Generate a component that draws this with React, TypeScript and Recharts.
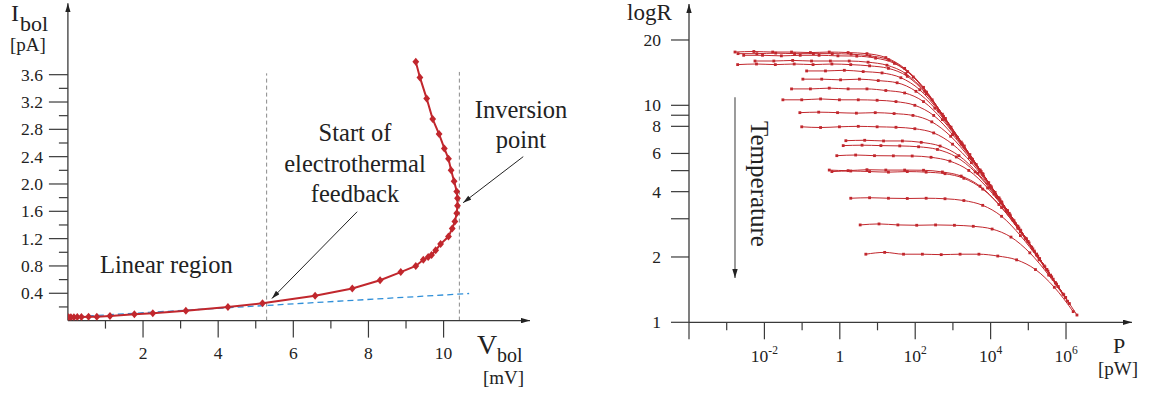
import React from 'react';
import { LineChart, Line, XAxis, YAxis, ReferenceLine } from 'recharts';

// ---------- left panel: I-V curve ----------
const ivVolts = [0.02, 0.08, 0.16, 0.25, 0.36, 0.55, 0.77, 1.12, 1.77, 2.26, 3.14, 4.26, 5.18, 6.58, 7.57, 8.31, 8.86, 9.26, 9.46, 9.59, 9.68, 9.79, 9.92, 10.13, 10.23, 10.3, 10.35, 10.37, 10.37, 10.35, 10.28, 10.2, 10.13, 10.02, 9.88, 9.71, 9.55, 9.37, 9.26];
const ivCurrents = [0.05, 0.05, 0.05, 0.053, 0.053, 0.057, 0.057, 0.067, 0.092, 0.107, 0.145, 0.2, 0.253, 0.365, 0.47, 0.59, 0.71, 0.8, 0.89, 0.93, 0.96, 1.03, 1.12, 1.23, 1.35, 1.45, 1.57, 1.68, 1.79, 1.89, 2.04, 2.2, 2.37, 2.52, 2.73, 2.95, 3.25, 3.56, 3.79];
const linearFitVolts = [0, 10.68];
const linearFitCurrents = [0.05, 0.397];
const guideVolts = [5.29, 10.42];
const guideTops = [3.62, 3.64];
const leftXTicks = [1, 2, 3, 4, 5, 6, 7, 8, 9, 10];
const leftYTicks = [0.2, 0.4, 0.6, 0.8, 1.0, 1.2, 1.4, 1.6, 1.8, 2.0, 2.2, 2.4, 2.6, 2.8, 3.0, 3.2, 3.4, 3.6];
// annotation arrows: [fromV, fromI, toV, toI]
const feedbackArrow = [7.7, 1.594, 5.43, 0.323];
const inversionArrow = [12.12, 2.4, 10.52, 1.726];

// ---------- right panel: logR vs P, one curve per temperature ----------
// [log10(P/pW), R]
const curve01 = [[-2.78, 17.6], [-2.28, 17.7], [-1.78, 17.6], [-1.28, 17.6], [-0.78, 17.5], [-0.28, 17.6], [0.22, 17.5], [0.72, 17.3], [1.22, 16.6], [1.72, 14.8], [2.22, 12.1], [2.72, 9.1], [3.22, 6.77], [3.72, 5.04], [4.22, 3.74], [4.72, 2.77], [5.22, 2.06]];
const curve02 = [[-2.7, 17.3], [-2.2, 17.3], [-1.7, 17.4], [-1.2, 17.3], [-0.7, 17.3], [-0.2, 17.3], [0.3, 17.2], [0.8, 16.9], [1.3, 16.2], [1.8, 14.3], [2.3, 11.5], [2.8, 8.7], [3.3, 6.49], [3.8, 4.81], [4.3, 3.56], [4.8, 2.64], [5.3, 1.96]];
const curve03 = [[-2.55, 17.0], [-2.05, 17.0], [-1.55, 16.9], [-1.05, 17.0], [-0.55, 17.0], [-0.05, 16.9], [0.45, 16.85], [0.95, 16.5], [1.45, 15.6], [1.95, 13.5], [2.45, 10.6], [2.95, 7.93], [3.45, 5.93], [3.95, 4.4], [4.45, 3.26], [4.95, 2.42]];
const curve04 = [[-2.25, 16.0], [-1.75, 16.0], [-1.25, 16.1], [-0.75, 16.0], [-0.25, 16.0], [0.25, 16.0], [0.75, 15.8], [1.25, 15.3], [1.75, 14.0], [2.25, 11.6], [2.75, 8.9], [3.25, 6.64], [3.75, 4.95], [4.25, 3.67], [4.75, 2.72], [5.25, 2.02], [5.75, 1.5]];
const curve05 = [[-2.71, 15.4], [-2.21, 15.5], [-1.71, 15.4], [-1.21, 15.5], [-0.71, 15.4], [-0.21, 15.5], [0.29, 15.4], [0.79, 15.2], [1.29, 14.8], [1.79, 13.6], [2.29, 11.3], [2.79, 8.66], [3.29, 6.48], [3.79, 4.84], [4.29, 3.59], [4.79, 2.66], [5.29, 1.97]];
const curve06 = [[-0.88, 14.4], [-0.38, 14.4], [0.12, 14.5], [0.62, 14.3], [1.12, 14.1], [1.62, 13.4], [2.12, 11.8], [2.62, 9.42], [3.12, 7.11], [3.62, 5.33], [4.12, 3.97], [4.62, 2.94], [5.12, 2.18], [5.62, 1.62]];
const curve07 = [[-0.98, 13.2], [-0.48, 13.2], [0.02, 13.1], [0.52, 13.2], [1.02, 13.0], [1.52, 12.7], [2.02, 11.6], [2.52, 9.7], [3.02, 7.46], [3.52, 5.64], [4.02, 4.21], [4.52, 3.12], [5.02, 2.32], [5.52, 1.72]];
const curve08 = [[-1.28, 11.9], [-0.78, 11.9], [-0.28, 12.0], [0.22, 11.9], [0.72, 11.9], [1.22, 11.7], [1.72, 11.4], [2.22, 10.4], [2.72, 8.59], [3.22, 6.63], [3.72, 5.0], [4.22, 3.74], [4.72, 2.77], [5.22, 2.06], [5.72, 1.52]];
const curve09 = [[-1.51, 10.6], [-1.01, 10.6], [-0.51, 10.7], [-0.01, 10.6], [0.49, 10.6], [0.99, 10.55], [1.49, 10.4], [1.99, 10.0], [2.49, 8.98], [2.99, 7.33], [3.49, 5.66], [3.99, 4.26], [4.49, 3.18], [4.99, 2.36], [5.49, 1.75], [5.99, 1.3]];
const curve10 = [[-1.06, 9.25], [-0.56, 9.3], [-0.06, 9.25], [0.44, 9.2], [0.94, 9.25], [1.44, 9.16], [1.94, 8.98], [2.44, 8.39], [2.94, 7.2], [3.44, 5.73], [3.94, 4.37], [4.44, 3.28], [4.94, 2.43], [5.44, 1.8], [5.94, 1.34]];
const curve11 = [[-1.01, 7.96], [-0.51, 7.9], [-0.01, 7.96], [0.49, 8.0], [0.99, 7.96], [1.49, 7.92], [1.99, 7.8], [2.49, 7.46], [2.99, 6.62], [3.49, 5.44], [3.99, 4.2], [4.49, 3.16], [4.99, 2.36], [5.49, 1.75], [5.99, 1.3]];
const curve12 = [[0.16, 6.87], [0.66, 6.9], [1.16, 6.85], [1.66, 6.85], [2.16, 6.75], [2.66, 6.49], [3.16, 5.86], [3.66, 4.86], [4.16, 3.79], [4.66, 2.85], [5.16, 2.13], [5.66, 1.58]];
const curve13 = [[0.09, 6.52], [0.59, 6.55], [1.09, 6.52], [1.59, 6.5], [2.09, 6.44], [2.59, 6.26], [3.09, 5.78], [3.59, 4.93], [4.09, 3.9], [4.59, 2.96], [5.09, 2.22], [5.59, 1.65], [6.09, 1.22]];
const curve14 = [[-0.08, 5.86], [0.42, 5.9], [0.92, 5.86], [1.42, 5.85], [1.92, 5.84], [2.42, 5.76], [2.92, 5.53], [3.42, 5.01], [3.92, 4.16], [4.42, 3.24], [4.92, 2.44], [5.42, 1.82], [5.92, 1.35]];
const curve15 = [[-0.28, 5.03], [0.22, 5.0], [0.72, 5.05], [1.22, 5.03], [1.72, 5.03], [2.22, 5.02], [2.72, 4.93], [3.22, 4.72], [3.72, 4.24], [4.22, 3.49], [4.72, 2.71], [5.22, 2.04], [5.72, 1.52]];
const curve16 = [[-0.21, 4.95], [0.29, 4.98], [0.79, 4.95], [1.29, 4.92], [1.79, 4.95], [2.29, 4.92], [2.79, 4.84], [3.29, 4.61], [3.79, 4.11], [4.29, 3.38], [4.79, 2.61], [5.29, 1.96], [5.79, 1.46]];
const curve17 = [[0.29, 3.73], [0.79, 3.75], [1.29, 3.73], [1.79, 3.72], [2.29, 3.73], [2.79, 3.71], [3.29, 3.64], [3.79, 3.46], [4.29, 3.08], [4.79, 2.51], [5.29, 1.94], [5.79, 1.46], [6.29, 1.08]];
const curve18 = [[0.54, 2.81], [1.04, 2.84], [1.54, 2.81], [2.04, 2.8], [2.54, 2.81], [3.04, 2.8], [3.54, 2.77], [4.04, 2.69], [4.54, 2.47], [5.04, 2.09], [5.54, 1.65], [6.04, 1.25]];
const curve19 = [[0.69, 2.06], [1.19, 2.1], [1.69, 2.06], [2.19, 2.06], [2.69, 2.05], [3.19, 2.06], [3.69, 2.06], [4.19, 2.02], [4.69, 1.94], [5.19, 1.75], [5.69, 1.45], [6.19, 1.12]];
const powerCurves = [curve01, curve02, curve03, curve04, curve05, curve06, curve07, curve08, curve09, curve10, curve11, curve12, curve13, curve14, curve15, curve16, curve17, curve18, curve19];

const rightXTickExps = [-4, -3, -2, -1, 0, 1, 2, 3, 4, 5, 6];
const rightXLabelExps = [-2, 0, 2, 4, 6];
const rightYTicks = [1, 2, 3, 4, 5, 6, 8, 9, 10, 20];
const rightYLabels = [1, 2, 4, 6, 8, 10, 20];
const temperatureArrow = [-2.78, 10.9, 1.6]; // [log10 P, from R, to R]

const INK = '#3a3a3a';
const TEXT = '#222';
const RED = '#c1272d';
const SERIF = '"Liberation Serif", "Times New Roman", serif';

const ivData = ivVolts.map((v, i) => ({ v, i: ivCurrents[i] }));
const fitData = linearFitVolts.map((v, i) => ({ v, i: linearFitCurrents[i] }));

const LeftXTick = ({ x, y, payload }: any) => {
  const v = payload.value;
  const major = v % 2 === 0;
  return (
    <g>
      <line x1={x} y1={y} x2={x} y2={y + (major ? 17 : 8)} stroke={INK} strokeWidth={1.2} />
      {major && (
        <text x={x} y={y + 38} textAnchor="middle" fontSize={17.5} fontFamily={SERIF} fill={TEXT}>{v}</text>
      )}
    </g>
  );
};

const LeftYTick = ({ x, y, payload }: any) => {
  const v = payload.value;
  const major = Math.round(v * 10) % 4 === 0;
  return (
    <g>
      <line x1={x - (major ? 19 : 9)} y1={y} x2={x} y2={y} stroke={INK} strokeWidth={1.2} />
      {major && (
        <text x={x - 25} y={y + 6} textAnchor="end" fontSize={17.5} fontFamily={SERIF} fill={TEXT}>{v.toFixed(1)}</text>
      )}
    </g>
  );
};

const RightXTick = ({ x, y, payload }: any) => {
  const e = Math.round(Math.log10(payload.value));
  const major = e % 2 === 0;
  const labelled = rightXLabelExps.includes(e);
  return (
    <g>
      <line x1={x} y1={y} x2={x} y2={y + (major ? 17 : 8)} stroke={INK} strokeWidth={1.2} />
      {labelled && (
        <text x={x} y={y + 40} textAnchor="middle" fontSize={17.5} fontFamily={SERIF} fill={TEXT}>
          {e === 0 ? '1' : (
            <>
              <tspan>10</tspan>
              <tspan dy={-8} fontSize={11.5}>{e}</tspan>
            </>
          )}
        </text>
      )}
    </g>
  );
};

const RightYTick = ({ x, y, payload }: any) => {
  const v = payload.value;
  return (
    <g>
      <line x1={x - 18} y1={y} x2={x} y2={y} stroke={INK} strokeWidth={1.2} />
      {rightYLabels.includes(v) && (
        <text x={x - 28} y={y + 6} textAnchor="end" fontSize={17.5} fontFamily={SERIF} fill={TEXT}>{v}</text>
      )}
    </g>
  );
};

const diamondDot = (props: any) => {
  const { cx, cy, index } = props;
  return <path key={`dm-${index}`} d={`M${cx},${cy - 4} L${cx + 3.4},${cy} L${cx},${cy + 4} L${cx - 3.4},${cy} Z`} fill={RED} />;
};

const squareDot = (props: any) => {
  const { cx, cy, index } = props;
  return <rect key={`sq-${index}`} x={cx - 1.4} y={cy - 1.4} width={2.8} height={2.8} fill={RED} />;
};

const axisLineStyle = { stroke: INK, strokeWidth: 1.3 };

const IVChart = () => (
  <LineChart width={576} height={394} margin={{ top: 3.3, right: 46, bottom: 43.4, left: 27.9 }}>
    <XAxis
      type="number"
      dataKey="v"
      domain={[0, 12.3]}
      allowDataOverflow
      ticks={leftXTicks}
      interval={0}
      tickSize={0}
      tickMargin={0}
      tickLine={false}
      height={30}
      tick={<LeftXTick />}
      axisLine={{ ...axisLineStyle, markerEnd: 'url(#axArrow)' }}
    />
    <YAxis
      type="number"
      dataKey="i"
      domain={[0, 4.645]}
      allowDataOverflow
      ticks={leftYTicks}
      interval={0}
      tickSize={0}
      tickMargin={0}
      tickLine={false}
      width={40}
      tick={<LeftYTick />}
      axisLine={{ ...axisLineStyle, markerStart: 'url(#axArrow)' }}
    />
    {guideVolts.map((v, k) => (
      <ReferenceLine
        key={`g${k}`}
        segment={[{ x: v, y: 0 }, { x: v, y: guideTops[k] }]}
        stroke="#8a8a8a"
        strokeWidth={1}
        strokeDasharray="4 3"
        ifOverflow="visible"
      />
    ))}
    <ReferenceLine
      segment={[{ x: feedbackArrow[0], y: feedbackArrow[1] }, { x: feedbackArrow[2], y: feedbackArrow[3] }]}
      stroke="#222"
      strokeWidth={1}
      markerEnd="url(#noteArrow)"
      ifOverflow="visible"
    />
    <ReferenceLine
      segment={[{ x: inversionArrow[0], y: inversionArrow[1] }, { x: inversionArrow[2], y: inversionArrow[3] }]}
      stroke="#222"
      strokeWidth={1}
      markerEnd="url(#noteArrow)"
      ifOverflow="visible"
    />
    <Line data={fitData} dataKey="i" stroke="#2f8fd8" strokeWidth={1.3} strokeDasharray="6 4" dot={false} activeDot={false} isAnimationActive={false} />
    <Line data={ivData} dataKey="i" stroke={RED} strokeWidth={2} dot={diamondDot} activeDot={false} isAnimationActive={false} />
  </LineChart>
);

const PowerChart = () => (
  <LineChart width={576} height={394} margin={{ top: 4, right: 20, bottom: 41.7, left: 73 }}>
    <XAxis
      type="number"
      dataKey="p"
      scale="log"
      domain={[1e-4, 10 ** 7.75]}
      allowDataOverflow
      ticks={rightXTickExps.map((e) => 10 ** e)}
      interval={0}
      tickSize={0}
      tickMargin={0}
      tickLine={false}
      height={30}
      tick={<RightXTick />}
      axisLine={{ ...axisLineStyle, markerEnd: 'url(#axArrow)' }}
    />
    <YAxis
      type="number"
      dataKey="r"
      scale="log"
      domain={[1, 29.3]}
      allowDataOverflow
      ticks={rightYTicks}
      interval={0}
      tickSize={0}
      tickMargin={0}
      tickLine={false}
      width={40}
      tick={<RightYTick />}
      axisLine={{ ...axisLineStyle, markerStart: 'url(#axArrow)' }}
    />
    <ReferenceLine
      segment={[{ x: 10 ** temperatureArrow[0], y: temperatureArrow[1] }, { x: 10 ** temperatureArrow[0], y: temperatureArrow[2] }]}
      stroke="#666"
      strokeWidth={1.3}
      markerEnd="url(#axArrow)"
      ifOverflow="visible"
    />
    {powerCurves.map((c, k) => (
      <Line
        key={`c${k}`}
        data={c.map(([e, r]) => ({ p: 10 ** e, r }))}
        dataKey="r"
        type="monotone"
        stroke={RED}
        strokeWidth={1}
        dot={squareDot}
        activeDot={false}
        isAnimationActive={false}
      />
    ))}
  </LineChart>
);

export default function App() {
  return (
    <div style={{ position: 'absolute', left: 0, top: 0, width: 1152, height: 394, background: '#fff' }}>
      <svg width={0} height={0} style={{ position: 'absolute' }}>
        <defs>
          <marker id="axArrow" viewBox="0 0 10 6" refX={10} refY={3} markerWidth={9} markerHeight={5.4} markerUnits="userSpaceOnUse" orient="auto-start-reverse">
            <path d="M0,0 L10,3 L0,6 Z" fill="#222" />
          </marker>
          <marker id="noteArrow" viewBox="0 0 10 6" refX={10} refY={3} markerWidth={10} markerHeight={5} markerUnits="userSpaceOnUse" orient="auto-start-reverse">
            <path d="M0,0 L10,3 L0,6 Z" fill="#222" />
          </marker>
        </defs>
      </svg>
      <div style={{ position: 'absolute', left: 0, top: 0 }}>
        <IVChart />
      </div>
      <div style={{ position: 'absolute', left: 576, top: 0 }}>
        <PowerChart />
      </div>
      <svg width={1152} height={394} style={{ position: 'absolute', left: 0, top: 0, pointerEvents: 'none' }} fontFamily={SERIF} fill={TEXT}>
        <text x={11} y={21} fontSize={24}>I</text>
        <text x={20} y={31} fontSize={22}>bol</text>
        <text x={10} y={51} fontSize={19}>[pA]</text>
        <text x={100} y={273} fontSize={24.5}>Linear region</text>
        <text x={355} textAnchor="middle" fontSize={24.5}>
          <tspan x={355} y={141}>Start of</tspan>
          <tspan x={355} y={172}>electrothermal</tspan>
          <tspan x={355} y={202}>feedback</tspan>
        </text>
        <text x={521} textAnchor="middle" fontSize={24.5}>
          <tspan x={521} y={118}>Inversion</tspan>
          <tspan x={521} y={148}>point</tspan>
        </text>
        <text x={477} y={354} fontSize={28}>V</text>
        <text x={497} y={362} fontSize={20}>bol</text>
        <text x={483} y={384} fontSize={19}>[mV]</text>
        <text x={627} y={20} fontSize={23}>logR</text>
        <text x={751} y={121} fontSize={25} transform="rotate(90 751 121)">Temperature</text>
        <text x={1113} y={353} fontSize={22}>P</text>
        <text x={1098} y={375} fontSize={19}>[pW]</text>
      </svg>
    </div>
  );
}
